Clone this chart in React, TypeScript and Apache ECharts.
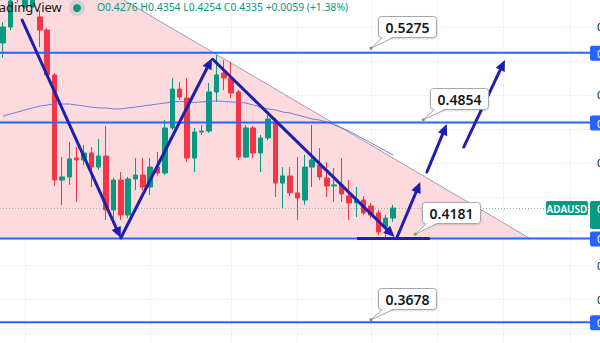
import React, { useEffect, useRef } from "react";
import * as echarts from "echarts";

// ---- candle data (index = bar number), values in USD ----
const opens = [0.5306, 0.54, 0.5565, 0.5518, 0.5518, 0.5459, 0.5382, 0.5118, 0.45, 0.4518, 0.4629, 0.4618, 0.4659, 0.4576, 0.4641, 0.4324, 0.45, 0.4294, 0.4506, 0.4529, 0.4459, 0.4576, 0.4541, 0.4806, 0.5035, 0.4982, 0.4629, 0.4782, 0.4788, 0.5018, 0.5129, 0.51, 0.5018, 0.4635, 0.4806, 0.4659, 0.4747, 0.4841, 0.4482, 0.4524, 0.4424, 0.4382, 0.4576, 0.4588, 0.4512, 0.4465, 0.4471, 0.4406, 0.4365, 0.4382, 0.4347, 0.4306, 0.4224, 0.4276];
const closes = [0.54, 0.5553, 0.561, 0.558, 0.5575, 0.5382, 0.5118, 0.45, 0.4518, 0.4624, 0.4618, 0.4659, 0.4576, 0.4641, 0.4324, 0.45, 0.4294, 0.4506, 0.4529, 0.4459, 0.4576, 0.4541, 0.4806, 0.5035, 0.4988, 0.4629, 0.4782, 0.4788, 0.5018, 0.5118, 0.51, 0.5012, 0.4635, 0.4806, 0.4659, 0.4747, 0.4859, 0.4482, 0.4524, 0.4424, 0.4394, 0.4576, 0.4618, 0.4518, 0.4465, 0.4471, 0.4418, 0.4365, 0.4382, 0.4306, 0.4294, 0.4194, 0.4276, 0.4335];
const lows = [0.5218, 0.5382, 0.5545, 0.5506, 0.551, 0.5282, 0.5106, 0.4465, 0.4353, 0.4471, 0.4371, 0.4588, 0.4459, 0.4559, 0.4265, 0.4276, 0.4265, 0.4276, 0.4441, 0.4441, 0.4412, 0.4524, 0.4529, 0.4794, 0.4971, 0.4606, 0.4547, 0.4765, 0.4776, 0.4959, 0.5029, 0.4982, 0.4618, 0.4629, 0.4629, 0.4547, 0.4735, 0.44, 0.4335, 0.4406, 0.4265, 0.4353, 0.4459, 0.45, 0.44, 0.4371, 0.4371, 0.4265, 0.4282, 0.4294, 0.4276, 0.4176, 0.4165, 0.4254];
const highs = [0.5429, 0.5565, 0.563, 0.56, 0.559, 0.55, 0.5394, 0.5129, 0.4635, 0.4724, 0.4694, 0.4706, 0.4694, 0.4741, 0.4818, 0.4512, 0.4547, 0.4518, 0.4629, 0.4629, 0.4629, 0.4665, 0.4853, 0.51, 0.5076, 0.51, 0.4806, 0.4824, 0.5071, 0.5235, 0.5206, 0.5194, 0.5029, 0.4824, 0.4818, 0.4765, 0.4882, 0.4865, 0.4576, 0.4576, 0.4635, 0.4647, 0.4824, 0.4688, 0.4606, 0.4571, 0.4629, 0.45, 0.4459, 0.4406, 0.4365, 0.4324, 0.4294, 0.4354];
const maValues = [0.4876, 0.4888, 0.49, 0.4912, 0.4924, 0.4935, 0.4941, 0.4947, 0.4947, 0.4947, 0.4941, 0.4935, 0.4929, 0.4924, 0.4924, 0.4918, 0.4918, 0.4924, 0.4929, 0.4935, 0.4941, 0.4947, 0.4953, 0.4959, 0.4962, 0.4959, 0.4956, 0.4959, 0.4962, 0.4965, 0.4962, 0.4959, 0.4956, 0.4953, 0.4941, 0.4929, 0.4918, 0.4912, 0.49, 0.4894, 0.4882, 0.4871, 0.4859, 0.4853, 0.4841, 0.4824, 0.4806, 0.4788, 0.4765, 0.4741, 0.4718, 0.4694, 0.4671, 0.4647];

// ---- axes ----
const priceTicks = [0.36, 0.38, 0.4, 0.42, 0.44, 0.46, 0.48, 0.5, 0.52, 0.54];
const timeGridBars = [3, 20, 31, 40, 50, 59, 68, 77];
const Y_MIN = 0.35412;
const Y_MAX = 0.55588;
const X_MIN = -0.41;
const X_MAX = 79.76;

// ---- drawings ----
const levelValues = [0.5249, 0.4838, 0.4156, 0.3663];
const calloutTexts = ["0.5275", "0.4854", "0.4181", "0.3678"];
const calloutValues = [0.5275, 0.4854, 0.4181, 0.3678];
const calloutBars = [50, 57.1, 56, 50];
const triangleEdge = [[16.4, Y_MAX], [71.6, 0.4156]];
const arrowStarts = [[2.6, 0.5441], [16.0, 0.4159], [28.5, 0.521], [53.5, 0.4159], [57.6, 0.4547], [62.6, 0.4694]];
const arrowEnds = [[16.0, 0.4159], [28.4, 0.5216], [53.2, 0.4165], [56.7, 0.4488], [60.3, 0.4829], [68.2, 0.5206]];
const supportMark = [[48.1, 0.4156], [58.0, 0.4156]];

const UP = "#089981";
const DOWN = "#f23645";
const NAVY = "#1f1fae";
const LEVEL = "#2962ff";

function arrowEls(a: number[], b: number[]) {
  const dx = b[0] - a[0], dy = b[1] - a[1];
  const len = Math.hypot(dx, dy);
  const ux = dx / len, uy = dy / len;
  const head = 11, hw = 5;
  const bx = b[0] - ux * head, by = b[1] - uy * head;
  return [
    { type: "line", shape: { x1: a[0], y1: a[1], x2: bx + ux * 2, y2: by + uy * 2 }, style: { stroke: NAVY, lineWidth: 3, lineCap: "round" } },
    { type: "polygon", shape: { points: [[b[0], b[1]], [bx - uy * hw, by + ux * hw], [bx + uy * hw, by - ux * hw]] }, style: { fill: NAVY } },
  ];
}

function layer(z: number, build: (c: (p: number[]) => number[], cs: any) => any[]) {
  return {
    type: "custom",
    z,
    silent: true,
    clip: false,
    data: [[0, 0.45]],
    encode: { x: 0, y: 1 },
    renderItem: (params: any, api: any) => ({
      type: "group",
      children: build((p: number[]) => api.coord(p), params.coordSys),
    }),
  };
}

export default function App() {
  const ref = useRef<HTMLDivElement>(null);
  useEffect(() => {
    const chart = echarts.init(ref.current!, null, { renderer: "svg" });
    const n = opens.length;
    const candleData = opens.map((o, i) => [i, o, closes[i], lows[i], highs[i]]);
    const maData = maValues.map((v, i) => [i, v]);
    const last = n - 1;
    const chg = closes[last] - closes[last - 1];
    const header = `O${opens[last].toFixed(4)} H${highs[last].toFixed(4)} L${lows[last].toFixed(4)} C${closes[last].toFixed(4)} +${chg.toFixed(4)} (+${((chg / closes[last - 1]) * 100).toFixed(2)}%)`;

    const option: any = {
      animation: false,
      backgroundColor: "#ffffff",
      grid: { left: 0, right: 10, top: 0, bottom: 0, containLabel: false },
      xAxis: { type: "value", min: X_MIN, max: X_MAX, show: false, splitLine: { show: false } },
      yAxis: { type: "value", min: Y_MIN, max: Y_MAX, show: false, splitLine: { show: false }, scale: true },
      series: [
        // grid lines
        layer(1, (c, cs) => {
          const els: any[] = [];
          priceTicks.forEach((v) => {
            const y = Math.round(c([0, v])[1]) + 0.5;
            els.push({ type: "line", shape: { x1: cs.x, y1: y, x2: cs.x + cs.width, y2: y }, style: { stroke: "#f0f3fa", lineWidth: 1 } });
          });
          timeGridBars.forEach((b) => {
            const x = Math.round(c([b, 0.45])[0]) + 0.5;
            els.push({ type: "line", shape: { x1: x, y1: cs.y, x2: x, y2: cs.y + cs.height }, style: { stroke: "#f0f3fa", lineWidth: 1 } });
          });
          return els;
        }),
        // triangle fill
        layer(2, (c, cs) => {
          const p1 = c(triangleEdge[0]);
          const p2 = c(triangleEdge[1]);
          return [
            { type: "polygon", shape: { points: [[cs.x, cs.y], p1, p2, [cs.x, p2[1]]] }, style: { fill: "#fcdadd" } },
            { type: "line", shape: { x1: p1[0], y1: p1[1], x2: p2[0], y2: p2[1] }, style: { stroke: "#9aa0b8", lineWidth: 1 } },
          ];
        }),
        // last price dotted line
        layer(3, (c, cs) => {
          const y = Math.round(c([0, closes[last]])[1]) + 0.5;
          return [{ type: "line", shape: { x1: cs.x, y1: y, x2: cs.x + cs.width, y2: y }, style: { stroke: "#8fb9ae", lineWidth: 1, lineDash: [1, 2] } }];
        }),
        {
          type: "candlestick",
          z: 4,
          clip: true,
          barWidth: 5,
          data: candleData,
          encode: { x: 0, y: [1, 2, 3, 4] },
          itemStyle: { color: UP, color0: DOWN, borderColor: UP, borderColor0: DOWN, borderWidth: 1 },
        },
        {
          type: "line",
          z: 5,
          data: maData,
          showSymbol: false,
          symbol: "none",
          lineStyle: { color: "#5d6ccf", width: 1, opacity: 0.85 },
        },
        // horizontal levels
        layer(6, (c, cs) => {
          const els: any[] = [];
          levelValues.forEach((v) => {
            const y = c([0, v])[1];
            els.push({ type: "line", shape: { x1: cs.x, y1: y, x2: cs.x + cs.width, y2: y }, style: { stroke: LEVEL, lineWidth: 2 } });
          });
          const s1 = c(supportMark[0]);
          const s2 = c(supportMark[1]);
          els.push({ type: "line", shape: { x1: s1[0], y1: s1[1], x2: s2[0], y2: s2[1] }, style: { stroke: NAVY, lineWidth: 3 } });
          return els;
        }),
        // arrows
        layer(7, (c) => {
          const els: any[] = [];
          arrowStarts.forEach((a, i) => {
            els.push(...arrowEls(c(a), c(arrowEnds[i])));
          });
          return els;
        }),
        // callouts
        layer(8, (c) => {
          const els: any[] = [];
          calloutTexts.forEach((t, i) => {
            const p = c([calloutBars[i], calloutValues[i]]);
            const w = 58, h = 21;
            const bx = Math.round(p[0] + 7) + 0.5, by = Math.round(p[1] - 32) + 0.5;
            els.push({ type: "rect", shape: { x: bx, y: by, width: w, height: h, r: 3 }, style: { fill: "#ffffff", stroke: "#a3a6af", lineWidth: 1, shadowBlur: 2, shadowColor: "rgba(0,0,0,0.15)", shadowOffsetY: 1 } });
            els.push({ type: "polygon", shape: { points: [[bx + 4, by + h - 1], [bx + 15, by + h - 1], [p[0], p[1]]] }, style: { fill: "#ffffff" } });
            els.push({ type: "polyline", shape: { points: [[bx + 4, by + h], [p[0], p[1]], [bx + 15, by + h]] }, style: { stroke: "#a3a6af", lineWidth: 1, fill: null } });
            els.push({ type: "circle", shape: { cx: p[0], cy: p[1], r: 1.6 }, style: { fill: "#8a8d96" } });
            els.push({ type: "text", style: { text: t, x: bx + w / 2, y: by + h / 2 + 0.5, textAlign: "center", textVerticalAlign: "middle", fill: "#131722", font: "600 14px 'Noto Sans'" } });
          });
          return els;
        }),
        // price axis area
        layer(9, (c, cs) => {
          const els: any[] = [];
          const ax = cs.x + cs.width;
          const py = c([0, closes[last]])[1];
          const levelYs = levelValues.map((v) => c([0, v])[1]);
          priceTicks.forEach((v) => {
            const y = c([0, v])[1];
            const hidden = levelYs.some((ly) => Math.abs(ly - y) < 13) || (y > py - 14 && y < py + 28);
            if (hidden) return;
            els.push({ type: "text", style: { text: v.toFixed(4), x: ax + 7, y, textVerticalAlign: "middle", fill: "#131722", font: "11px 'Noto Sans'" } });
          });
          levelValues.forEach((v, i) => {
            const y = levelYs[i];
            els.push({ type: "rect", shape: { x: ax, y: y - 7, width: 40, height: 15, r: 2 }, style: { fill: LEVEL } });
            els.push({ type: "text", style: { text: v.toFixed(4), x: ax + 7, y: y + 0.5, textVerticalAlign: "middle", fill: "#ffffff", font: "11px 'Noto Sans'" } });
          });
          els.push({ type: "rect", shape: { x: ax, y: py - 7, width: 40, height: 28, r: 2 }, style: { fill: UP } });
          els.push({ type: "text", style: { text: closes[last].toFixed(4), x: ax + 7, y: py, textVerticalAlign: "middle", fill: "#ffffff", font: "11px 'Noto Sans'" } });
          els.push({ type: "rect", shape: { x: ax - 44, y: py - 7, width: 42, height: 14, r: 2 }, style: { fill: UP } });
          els.push({ type: "text", style: { text: "ADAUSD", x: ax - 23, y: py + 0.5, textAlign: "center", textVerticalAlign: "middle", fill: "#ffffff", font: "600 10px 'Noto Sans'" } });
          return els;
        }),
      ],
      graphic: [
        { type: "text", left: -13, top: 0, z: 100, style: { text: "TradingView", fill: "#131722", font: "13px 'Noto Sans'" } },
        { type: "circle", z: 100, shape: { cx: 77, cy: 8, r: 8 }, style: { fill: "rgba(8,153,129,0.15)" } },
        { type: "circle", z: 100, shape: { cx: 77, cy: 8, r: 4 }, style: { fill: UP } },
        { type: "text", left: 97, top: 2, z: 100, style: { text: header, fill: UP, font: "10.4px 'Noto Sans'" } },
      ],
    };
    chart.setOption(option);
    return () => chart.dispose();
  }, []);
  return <div ref={ref} style={{ position: "fixed", left: 0, top: 0, width: 600, height: 343 }} />;
}
